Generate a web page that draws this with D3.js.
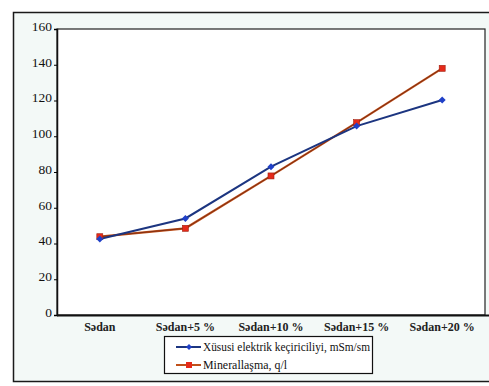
<!DOCTYPE html>
<html><head><meta charset="utf-8">
<script src="https://cdn.jsdelivr.net/npm/d3@7"></script>
<style>body{margin:0;background:#fff}svg{display:block}
svg text{font-family:"Liberation Serif","Times New Roman","DejaVu Serif",Times,serif}</style>
</head><body>
<svg id="c" width="489" height="386"></svg>
<script>
const categories = ["Sədan", "Sədan+5 %", "Sədan+10 %", "Sədan+15 %", "Sədan+20 %"];
const conductivity = [42.5, 54, 83, 105.7, 120.3];
const mineralization = [43.8, 48.5, 77.8, 107.6, 138];
const yTicks = [0, 20, 40, 60, 80, 100, 120, 140, 160];
const seriesNames = ["Xüsusi elektrik keçiriciliyi, mSm/sm", "Minerallaşma, q/l"];

const svg = d3.select("#c");
const L = 57, R = 485, T = 29, B = 315;

// outer frame
svg.append("rect").attr("x", 0).attr("y", 0).attr("width", 489).attr("height", 386).attr("fill", "#fff");
svg.append("rect").attr("x", 13.5).attr("y", 12.5).attr("width", 480).attr("height", 369)
  .attr("fill", "#f3f9f7").attr("stroke", "#1a1a1a").attr("stroke-width", 1.5);
// plot area
svg.append("rect").attr("x", L).attr("y", T).attr("width", R - L).attr("height", B - T)
  .attr("fill", "#fff").attr("stroke", "#222").attr("stroke-width", 1.2);

const x = d3.scaleBand().domain(categories).range([L, R]);
const y = d3.scaleLinear().domain([0, 160]).range([B, T]);

const yAxis = svg.append("g").attr("transform", `translate(${L},0)`)
  .call(d3.axisLeft(y).tickValues(yTicks).tickSize(3).tickPadding(2));
yAxis.attr("font-family", null);
yAxis.select(".domain").attr("stroke", "#111").attr("stroke-width", 1.5);
yAxis.selectAll("text").attr("font-size", 13.5).attr("fill", "#111").attr("dy", "0.1em");

const xAxis = svg.append("g").attr("transform", `translate(0,${B})`)
  .call(d3.axisBottom(x).tickSize(0).tickPadding(7));
xAxis.attr("font-family", null);
xAxis.select(".domain").remove();
svg.append("line").attr("x1", L).attr("x2", 489).attr("y1", B + 0.5).attr("y2", B + 0.5)
  .attr("stroke", "#111").attr("stroke-width", 2);
xAxis.selectAll("text").attr("font-size", 12).attr("font-weight", 600).attr("fill", "#222");

const line = d3.line().x((d, i) => x(categories[i]) + x.bandwidth() / 2).y(d => y(d));

// mineralization (red)
svg.append("path").datum(mineralization).attr("d", line).attr("fill", "none")
  .attr("stroke", "#c0501a").attr("stroke-width", 2.2);
svg.append("path").datum(mineralization).attr("d", line).attr("fill", "none")
  .attr("stroke", "#7a2a10").attr("stroke-width", 0.9);
// conductivity (blue)
svg.append("path").datum(conductivity).attr("d", line).attr("fill", "none")
  .attr("stroke", "#1c3580").attr("stroke-width", 2);

svg.selectAll(".sq").data(mineralization).join("rect")
  .attr("x", (d, i) => x(categories[i]) + x.bandwidth() / 2 - 3)
  .attr("y", d => y(d) - 3).attr("width", 6).attr("height", 6)
  .attr("fill", "#e52a1a").attr("stroke", "#a02010").attr("stroke-width", 0.6);
svg.selectAll(".dm").data(conductivity).join("path")
  .attr("transform", (d, i) => `translate(${x(categories[i]) + x.bandwidth() / 2},${y(d)})`)
  .attr("d", "M0,-3.5L3.5,0L0,3.5L-3.5,0Z").attr("fill", "#2040c8");

// legend
const lg = svg.append("g");
lg.append("rect").attr("x", 164.5).attr("y", 336.5).attr("width", 208).attr("height", 37)
  .attr("fill", "#fff").attr("stroke", "#111").attr("stroke-width", 1.2);
const rows = [347, 365];
lg.append("line").attr("x1", 176).attr("x2", 201).attr("y1", rows[0]).attr("y2", rows[0]).attr("stroke", "#1c3580").attr("stroke-width", 2);
lg.append("path").attr("transform", `translate(189,${rows[0]})`).attr("d", "M0,-3L3,0L0,3L-3,0Z").attr("fill", "#2040c8");
lg.append("line").attr("x1", 176).attr("x2", 201).attr("y1", rows[1]).attr("y2", rows[1]).attr("stroke", "#c0501a").attr("stroke-width", 2);
lg.append("rect").attr("x", 186).attr("y", rows[1] - 3).attr("width", 6).attr("height", 6).attr("fill", "#e52a1a");
const legendW = [167, 84];
seriesNames.forEach((n, i) => {
  lg.append("text").attr("x", 203).attr("y", rows[i]).attr("dy", "0.35em")
    .attr("font-size", 11.5).attr("fill", "#111")
    .attr("textLength", legendW[i]).attr("lengthAdjust", "spacingAndGlyphs").text(n);
});
</script>
</body></html>
